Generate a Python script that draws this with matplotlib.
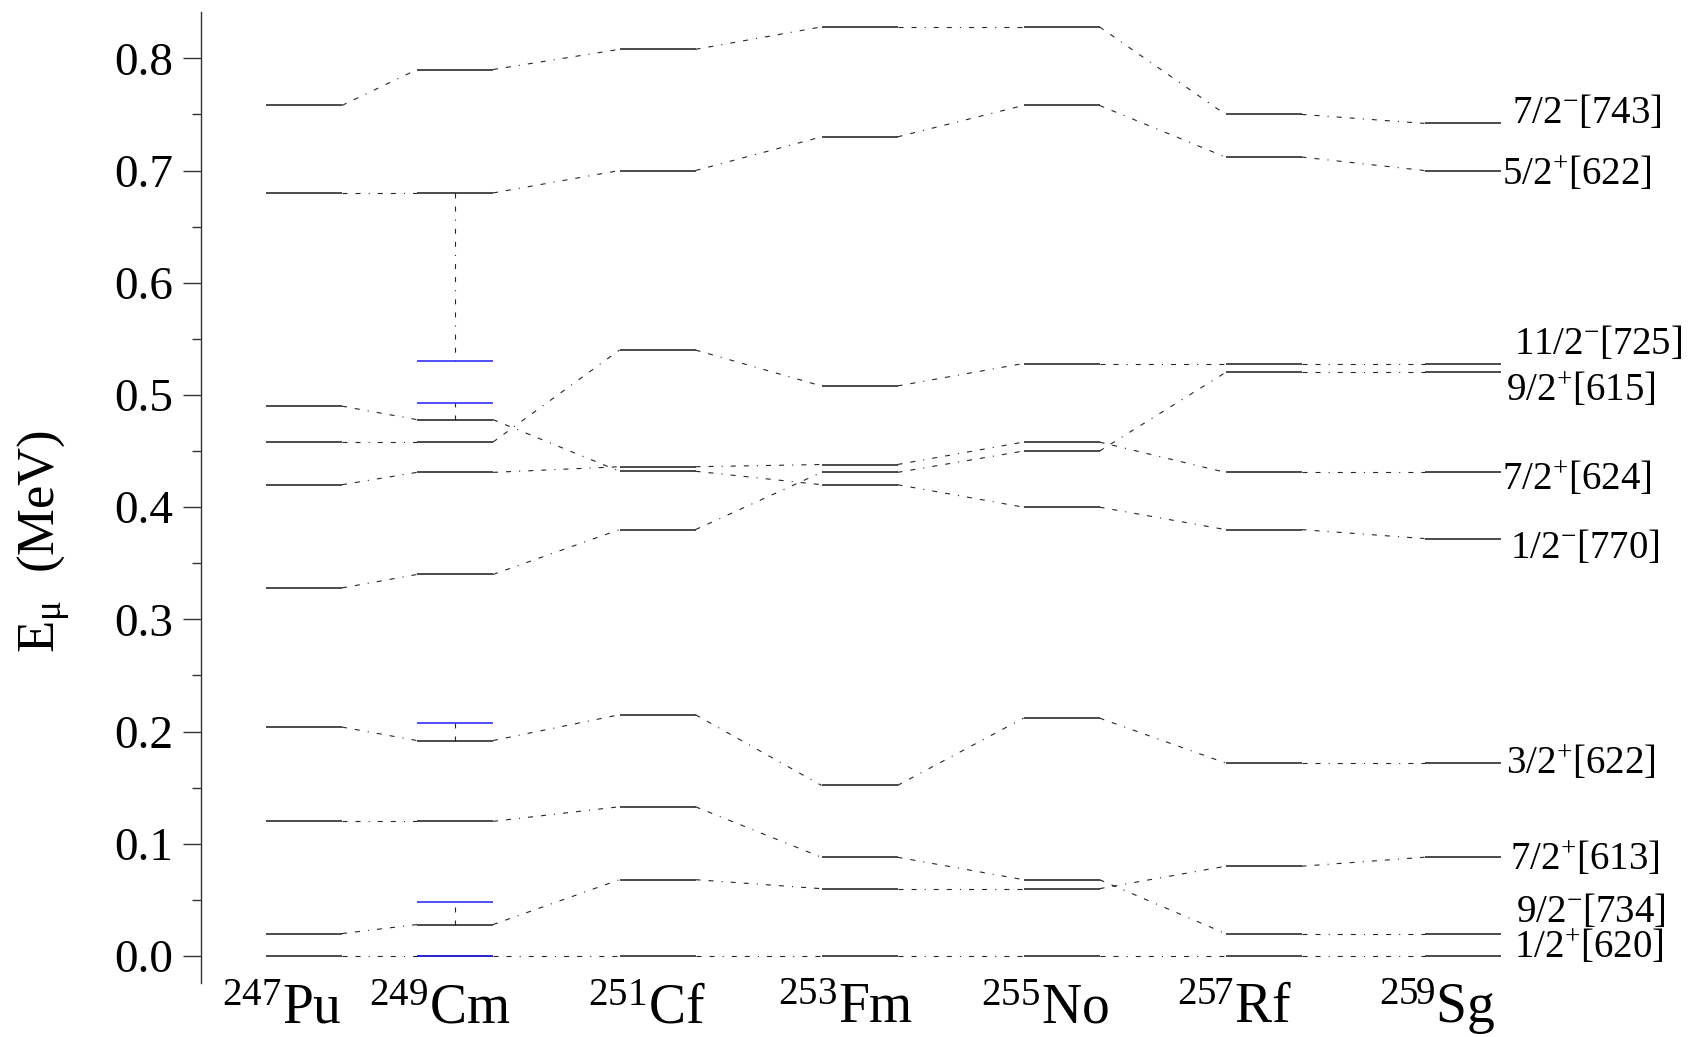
import matplotlib
matplotlib.use('Agg')
import matplotlib.pyplot as plt
from matplotlib.ticker import MultipleLocator, FormatStrFormatter
import matplotlib.transforms as mtransforms

plt.rcParams['font.family'] = ['Liberation Serif', 'DejaVu Serif']
plt.rcParams['mathtext.fontset'] = 'custom'
plt.rcParams['mathtext.rm'] = 'Liberation Serif'
plt.rcParams['mathtext.it'] = 'Liberation Serif:italic'
plt.rcParams['mathtext.bf'] = 'Liberation Serif:bold'
plt.rcParams['lines.scale_dashes'] = False

# ---------------- data ----------------
mass_numbers = ['247', '249', '251', '253', '255', '257', '259']
elements = ['Pu', 'Cm', 'Cf', 'Fm', 'No', 'Rf', 'Sg']

orbital_labels = ['7/2$^{-}$[743]', '5/2$^{+}$[622]', '11/2$^{-}$[725]',
                  '9/2$^{+}$[615]', '7/2$^{+}$[624]', '1/2$^{-}$[770]',
                  '3/2$^{+}$[622]', '7/2$^{+}$[613]', '9/2$^{-}$[734]',
                  '1/2$^{+}$[620]']

# level energies (MeV) for each band, nuclei ordered Pu, Cm, Cf, Fm, No, Rf, Sg
e_743 = [0.758, 0.790, 0.808, 0.828, 0.828, 0.750, 0.742]
e_622a = [0.680, 0.680, 0.700, 0.730, 0.758, 0.712, 0.700]
e_725 = [0.458, 0.458, 0.540, 0.508, 0.528, 0.528, 0.528]
e_615 = [0.328, 0.340, 0.380, 0.431, 0.450, 0.520, 0.520]
e_624 = [0.420, 0.431, 0.436, 0.438, 0.458, 0.431, 0.431]
e_770 = [0.490, 0.478, 0.432, 0.420, 0.400, 0.380, 0.372]
e_622b = [0.204, 0.192, 0.215, 0.152, 0.212, 0.172, 0.172]
e_613 = [0.020, 0.028, 0.068, 0.060, 0.060, 0.080, 0.088]
e_734 = [0.120, 0.120, 0.133, 0.088, 0.068, 0.020, 0.020]
e_620 = [0.000, 0.000, 0.000, 0.000, 0.000, 0.000, 0.000]

# experimental 249Cm levels (blue) and the calculated levels they link to
cm_exp_levels = [0.530, 0.493, 0.208, 0.048, 0.000]
cm_calc_partners = [0.680, 0.478, 0.192, 0.028, 0.000]

# ---------------- layout ----------------
bands = [e_743, e_622a, e_725, e_615, e_624, e_770, e_622b, e_613, e_734, e_620]
bar_centers = [304, 455, 657.5, 859.5, 1061.5, 1263.5, 1462.5]   # pixel-like x units
half_w = 38
label_centers = [281.5, 440, 647, 846, 1045, 1235, 1437]
right_label_y = [0.751, 0.696, 0.545, 0.504, 0.424, 0.364, 0.171, 0.086, 0.039, 0.007]
right_label_dx = [11, 2, 14, 5, 2, 9, 5, 9, 16, 13]

W, H = 1691, 1037
fig = plt.figure(figsize=(W / 100, H / 100), dpi=100)
left_px, top_px, bottom_px = 201, 12.3, 982.7
ax = fig.add_axes([left_px / W, 1 - bottom_px / H, 1 - left_px / W, (bottom_px - top_px) / H])
ax.set_xlim(left_px, W)
ax.set_ylim(-0.0238, 0.841)

dash = (3.6, 5.8, 3.6, 5.8, 0.8, 5.8)
bar_color = '0.1'
link_color = '0.15'

for band in bands:
    for i, e in enumerate(band):
        xc = bar_centers[i]
        ax.plot([xc - half_w, xc + half_w], [e, e], color=bar_color, lw=1.1,
                solid_capstyle='butt')
    for i in range(len(band) - 1):
        x0 = bar_centers[i] + half_w
        x1 = bar_centers[i + 1] - half_w
        ax.plot([x0, x1], [band[i], band[i + 1]], color=link_color, lw=0.8, dashes=dash)

# blue experimental levels in 249Cm with vertical links
xc_cm = bar_centers[1]
for e_exp, e_calc in zip(cm_exp_levels, cm_calc_partners):
    ax.plot([xc_cm - half_w, xc_cm + half_w], [e_exp, e_exp], color='#1f1fff', lw=1.1,
            solid_capstyle='butt', zorder=3)
    if e_exp != e_calc:
        ax.plot([xc_cm, xc_cm], [e_calc, e_exp], color=link_color, lw=0.8, dashes=dash)

# right-hand orbital labels
for lab, y, dx in zip(orbital_labels, right_label_y, right_label_dx):
    ax.text(bar_centers[-1] + half_w + dx, y, lab, ha='left', va='center',
            fontsize=28, clip_on=False)

# nucleus labels
trans = mtransforms.blended_transform_factory(ax.transData, fig.transFigure)
for xc, a, el in zip(label_centers, mass_numbers, elements):
    ax.text(xc, 14 / H, '$^{%s}$%s' % (a, el), transform=trans, ha='center',
            va='baseline', fontsize=40, clip_on=False)

# axes styling
for s in ['top', 'right', 'bottom']:
    ax.spines[s].set_visible(False)
ax.spines['left'].set_linewidth(1.0)
ax.spines['left'].set_color('0.2')
ax.set_xticks([])
ax.yaxis.set_major_locator(MultipleLocator(0.1))
ax.yaxis.set_minor_locator(MultipleLocator(0.05))
ax.yaxis.set_major_formatter(FormatStrFormatter('%.1f'))
ax.tick_params(axis='y', which='major', direction='out', length=13, width=1.0,
               labelsize=34, pad=7, color='0.2')
ax.tick_params(axis='y', which='minor', direction='out', length=6.5, width=1.0, color='0.2')

fig.text(0.026, 0.478, 'E$_{\\mathrm{\u03bc}}$  (MeV)', rotation=90, ha='center',
         va='center', fontsize=38)

fig.savefig('out.png', dpi=100)
